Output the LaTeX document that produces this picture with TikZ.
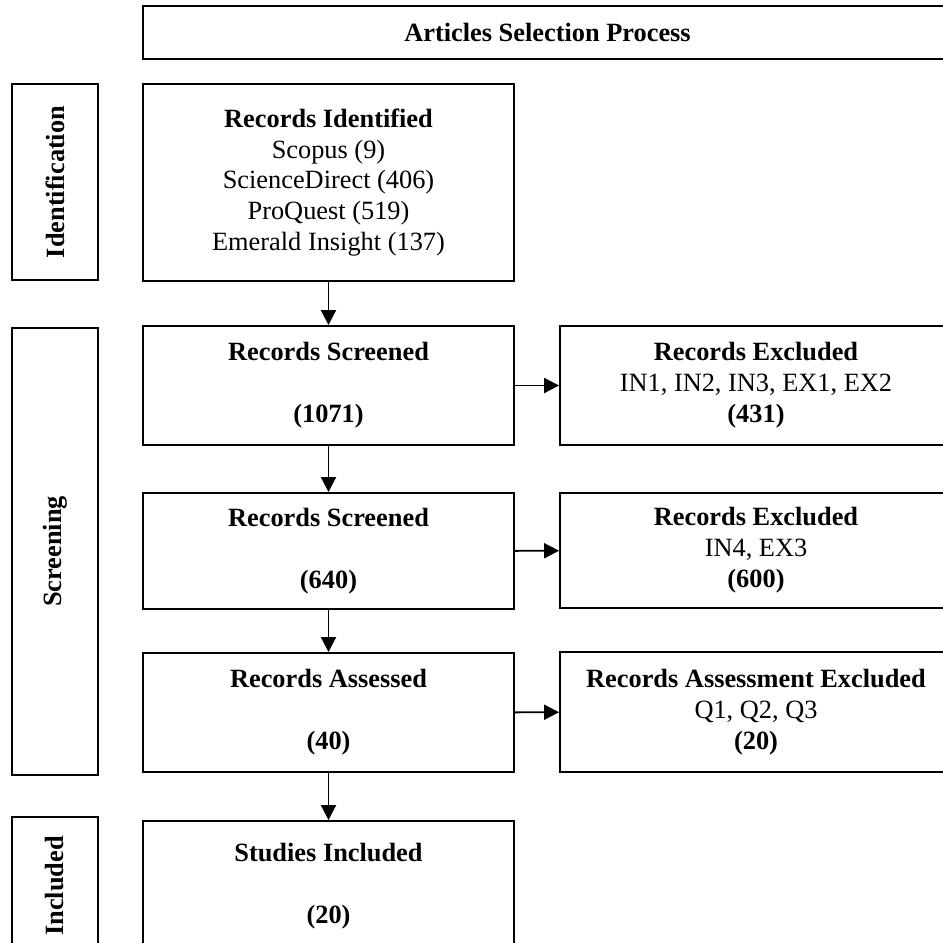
\documentclass[tikz,border=0pt]{standalone}
\usepackage{fontspec}
\setmainfont{Liberation Serif}
\usetikzlibrary{arrows.meta}
\newcommand{\Stage}[2]{\textbf{#1}\\~\\\textbf{#2}}
\newcommand{\Drop}[3]{\textbf{#1}\\#2\\\textbf{#3}}
\tikzset{
  box/.style={draw, line width=1.1pt, align=center, inner sep=2pt,
              font=\fontsize{15}{17.6}\selectfont},
  phase/.style={draw, line width=1.1pt, align=center, inner sep=2pt, rotate=90,
                minimum height=1.72cm, font=\fontsize{15}{17.6}\selectfont\bfseries},
  flow/.style={-{Triangle[length=0.3cm, width=0.3cm]}, line width=1.1pt},
}

\begin{document}
\begin{tikzpicture}[x=0.02cm, y=-0.02cm]
    \useasboundingbox (0,0) rectangle (943,943);
    \clip (0,0) rectangle (943,943);
    \node[box, minimum width=16.18cm, minimum height=1.06cm] (head) at (547.5,32.5) {\textbf{Articles Selection Process}};
    % phases
    \node[phase, minimum width=3.92cm] (pid)  at (55,182)   {Identification};
    \node[phase, minimum width=8.94cm] (pscr) at (55,551.5) {Screening};
    \node[phase, minimum width=2.76cm] (pinc) at (55,886)   {Included};
    % main column
    \node[box, minimum width=7.42cm, minimum height=3.94cm] (ident) at (328.5,182.5)
      {\textbf{Records Identified}\\Scopus (9)\\ScienceDirect (406)\\ProQuest (519)\\Emerald Insight (137)};
    \node[box, minimum width=7.42cm, minimum height=2.38cm] (scr1) at (328.5,385.5) {\Stage{Records Screened}{(1071)}};
    \node[box, minimum width=7.42cm, minimum height=2.32cm] (scr2) at (328.5,551)   {\Stage{Records Screened}{(640)}};
    \node[box, minimum width=7.42cm, minimum height=2.38cm] (ass)  at (328.5,712.5) {\Stage{Records Assessed}{(40)}};
    \node[box, minimum width=7.42cm, minimum height=2.62cm] (stud) at (328.5,886.5) {\Stage{Studies Included}{(20)}};
    % excluded column
    \node[box, minimum width=7.84cm, minimum height=2.38cm] (exc1) at (756,385.5) {\Drop{Records Excluded}{IN1, IN2, IN3, EX1, EX2}{(431)}};
    \node[box, minimum width=7.84cm, minimum height=2.30cm] (exc2) at (756,550.5) {\Drop{Records Excluded}{IN4, EX3}{(600)}};
    \node[box, minimum width=7.84cm, minimum height=2.40cm] (exc3) at (756,712)   {\Drop{Records Assessment Excluded}{Q1, Q2, Q3}{(20)}};
    \draw[flow] (ident) -- (scr1);
    \draw[flow] (scr1) -- (scr2);
    \draw[flow] (scr2) -- (ass);
    \draw[flow] (ass) -- (stud);
    \draw[flow] (scr1) -- (exc1);
    \draw[flow] (scr2) -- (exc2);
    \draw[flow] (ass) -- (exc3);
\end{tikzpicture}
\end{document}
